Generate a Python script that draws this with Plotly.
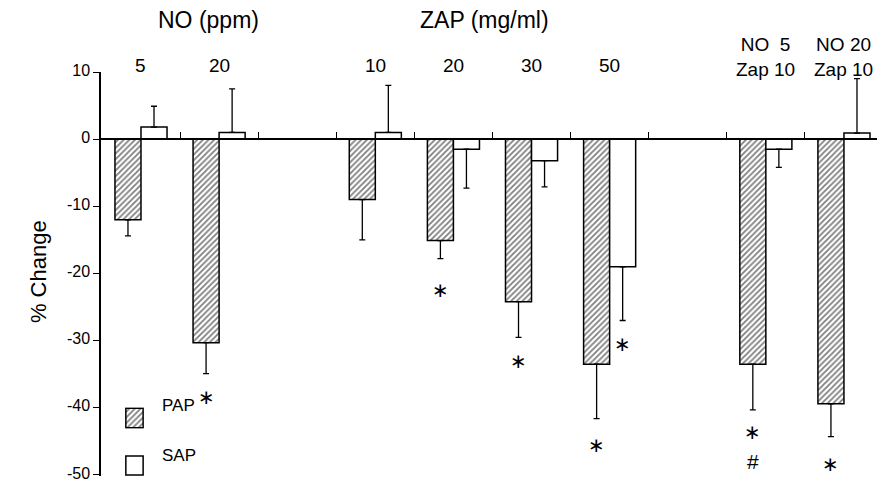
import plotly.graph_objects as go

# ---- data ----
slot_pos = [0, 1, 3, 4, 5, 6, 8, 9]
cat_labels = ["5", "20", "10", "20", "30", "50", "NO  5<br>Zap 10", "NO 20<br>Zap 10"]
pap = [-12.0, -30.3, -9.0, -15.1, -24.2, -33.5, -33.5, -39.4]
pap_err = [2.4, 4.6, 6.0, 2.7, 5.3, 8.1, 6.8, 4.9]
sap = [1.8, 1.0, 1.0, -1.5, -3.2, -19.0, -1.5, 0.9]
sap_err = [3.1, 6.5, 7.0, 5.8, 3.9, 8.0, 2.7, 8.1]
# significance marks: (slot, series, y, symbol)
sig_marks = [
    (1, "PAP", -38.4, "∗"),
    (4, "PAP", -22.5, "∗"),
    (5, "PAP", -33.0, "∗"),
    (6, "PAP", -45.5, "∗"),
    (6, "SAP", -30.5, "∗"),
    (8, "PAP", -43.6, "∗"),
    (8, "PAP", -48.0, "#"),
    (9, "PAP", -48.3, "∗"),
]
y_ticks = [10, 0, -10, -20, -30, -40, -50]
Y_MIN, Y_MAX = -50.15, 10

FONT = "Liberation Sans, Arial, sans-serif"
hatch = dict(shape="/", fgcolor="black", bgcolor="white", size=4, solidity=0.45)

def up(vals, errs):
    return [e if v >= 0 else 0 for v, e in zip(vals, errs)]

def down(vals, errs):
    return [e if v < 0 else 0 for v, e in zip(vals, errs)]

fig = go.Figure()
fig.add_trace(go.Bar(
    x=slot_pos, y=pap, name="PAP",
    marker=dict(color="white", pattern=hatch, line=dict(color="black", width=1.5)),
    error_y=dict(type="data", symmetric=False, array=up(pap, pap_err),
                 arrayminus=down(pap, pap_err), color="black", thickness=1.3, width=3),
    showlegend=False,
))
fig.add_trace(go.Bar(
    x=slot_pos, y=sap, name="SAP",
    marker=dict(color="white", line=dict(color="black", width=1.5)),
    error_y=dict(type="data", symmetric=False, array=up(sap, sap_err),
                 arrayminus=down(sap, sap_err), color="black", thickness=1.3, width=3),
    showlegend=False,
))

# legend patches on tiny overlay axes
fig.add_trace(go.Bar(x=[0], y=[1], width=[1], xaxis="x2", yaxis="y2", showlegend=False,
                     marker=dict(color="white", pattern=hatch, line=dict(color="black", width=1.5))))
fig.add_trace(go.Bar(x=[0], y=[1], width=[1], xaxis="x3", yaxis="y3", showlegend=False,
                     marker=dict(color="white", line=dict(color="black", width=1.5))))

ann = []
# category labels
for p, lab in zip(slot_pos, cat_labels):
    two = "<br>" in lab
    ann.append(dict(x=p, y=1.037 if two else 1.017, xref="x", yref="paper", text=lab,
                    showarrow=False, yanchor="middle",
                    font=dict(size=19, family=FONT, color="black")))
# group titles
ann.append(dict(x=0.87, y=1.129, xref="x", yref="paper", text="NO (ppm)", showarrow=False,
                yanchor="middle", font=dict(size=23, family=FONT, color="black")))
ann.append(dict(x=4.40, y=1.129, xref="x", yref="paper", text="ZAP (mg/ml)", showarrow=False,
                yanchor="middle", font=dict(size=23, family=FONT, color="black")))
# significance marks
for s, ser, yv, sym in sig_marks:
    off = -1/6 if ser == "PAP" else 1/6
    star = sym == "∗"
    ann.append(dict(x=s + off, y=yv, xref="x", yref="y", text=sym, showarrow=False,
                    yanchor="middle",
                    font=dict(size=20 if star else 21,
                              family="DejaVu Sans" if star else FONT, color="black")))
# y title
ann.append(dict(x=-0.0992, y=0.506, xref="paper", yref="paper", text="% Change",
                textangle=-90, showarrow=False,
                font=dict(size=22, family=FONT, color="black")))
# legend texts
ann.append(dict(x=0.076, y=0.146, xref="paper", yref="paper", text="PAP", xanchor="left",
                showarrow=False, font=dict(size=17, family=FONT, color="black")))
ann.append(dict(x=0.076, y=0.022, xref="paper", yref="paper", text="SAP", xanchor="left",
                showarrow=False, font=dict(size=17, family=FONT, color="black")))

fig.update_layout(
    width=881, height=485,
    margin=dict(l=101, r=4, t=72, b=9, autoexpand=False),
    paper_bgcolor="white", plot_bgcolor="white",
    barmode="group", bargap=1/3, bargroupgap=0,
    annotations=ann,
    xaxis=dict(range=[-0.512, 9.423], showgrid=False, zeroline=False,
               anchor="free", position=(0 - Y_MIN) / (Y_MAX - Y_MIN), automargin=False,
               showline=True, linecolor="black", linewidth=1.5,
               tickmode="array", tickvals=[0.5 + i for i in range(9)],
               ticks="inside", ticklen=6, tickwidth=1.3, tickcolor="black",
               showticklabels=False),
    yaxis=dict(range=[Y_MIN, Y_MAX], showgrid=False, zeroline=False, automargin=False,
               showline=True, linecolor="black", linewidth=1.5,
               tickmode="array", tickvals=y_ticks, ticktext=[str(v) for v in y_ticks],
               ticks="outside", ticklen=6, tickwidth=1.3, tickcolor="black",
               ticklabeloverflow="allow", ticklabelshift=-2,
               tickfont=dict(size=16, family=FONT, color="black")),
    xaxis2=dict(domain=[0.0309, 0.0554], anchor="y2", range=[-0.55, 0.55], visible=False),
    yaxis2=dict(domain=[0.117, 0.170], anchor="x2", range=[-0.05, 1.05], visible=False),
    xaxis3=dict(domain=[0.0309, 0.0554], anchor="y3", range=[-0.55, 0.55], visible=False),
    yaxis3=dict(domain=[0.0, 0.052], anchor="x3", range=[-0.05, 1.05], visible=False),
)

fig.write_html("out.html")
